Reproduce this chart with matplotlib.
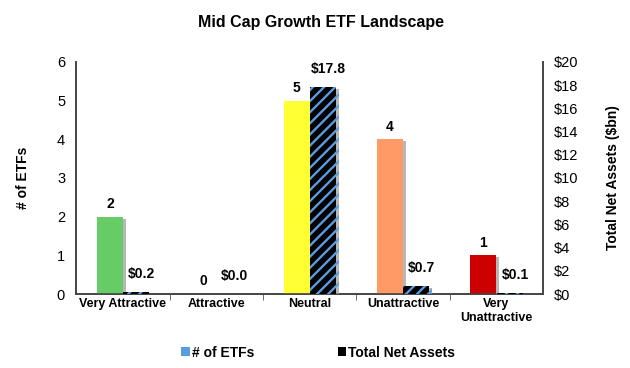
import matplotlib
matplotlib.use("Agg")
import matplotlib.pyplot as plt
import matplotlib.patheffects as pe
from matplotlib.patches import Patch
import numpy as np

plt.rcParams['font.family'] = ['Liberation Sans', 'DejaVu Sans']
plt.rcParams['hatch.linewidth'] = 1.7
plt.rcParams['hatch.color'] = '#5B9BE0'

categories = ["Very Attractive", "Attractive", "Neutral", "Unattractive", "Very\nUnattractive"]
num_etfs = [2, 0, 5, 4, 1]
net_assets = [0.2, 0.0, 17.8, 0.7, 0.1]
bar_colors = ["#66CC66", "#66CC66", "#FFFF33", "#FF9966", "#CC0000"]

fig = plt.figure(figsize=(6.3, 3.68), dpi=100)
ax = fig.add_axes([0.121, 0.201, 0.741, 0.631])
ax2 = ax.twinx()

x = np.arange(len(categories))
w = 0.28
shadow = [pe.SimplePatchShadow(offset=(2, -1.5), shadow_rgbFace='#999999', alpha=0.7), pe.Normal()]

b1 = ax.bar(x - w / 2, num_etfs, w, color=bar_colors, zorder=3)
for b in b1:
    b.set_path_effects(shadow)
b2 = ax2.bar(x + w / 2, net_assets, w, color='black', hatch='///', linewidth=0, zorder=3)
for b in b2:
    b.set_path_effects(shadow)

for xi, v in zip(x, num_etfs):
    ax.annotate(str(v), (xi - w / 2, v), xytext=(0, 4), textcoords='offset points',
                ha='center', va='bottom', fontsize=10, fontweight='bold')
for xi, v in zip(x, net_assets):
    ax2.annotate(f"${v:.1f}", (xi + w / 2, v), xytext=(4, 8), textcoords='offset points',
                 ha='center', va='bottom', fontsize=10, fontweight='bold')

ax.set_xlim(-0.5, 4.5)
ax.set_ylim(0, 6)
ax2.set_ylim(0, 20)
ax.set_yticks(range(0, 7))
ax2.set_yticks(range(0, 21, 2))
ax2.set_yticklabels([f"${t}" for t in range(0, 21, 2)])
ax.tick_params(axis='y', length=0, labelsize=10.5, pad=8)
ax2.tick_params(axis='y', length=0, labelsize=10.5, pad=8)

ax.set_xticks(x)
ax.set_xticklabels(categories, fontsize=9, fontweight='bold')
ax.tick_params(axis='x', length=0, pad=3)
ax.set_xticks(np.arange(0.5, 4.5, 1), minor=True)
ax.tick_params(axis='x', which='minor', length=4, direction='out', color='#555555')

for a in (ax, ax2):
    a.spines['top'].set_visible(False)
    for s in ('left', 'right', 'bottom'):
        a.spines[s].set_color('#444444')
        a.spines[s].set_linewidth(1.2)

ax.set_ylabel("# of ETFs", fontsize=10, fontweight='bold', labelpad=19)
ax2.set_ylabel("Total Net Assets ($bn)", fontsize=10, fontweight='bold', labelpad=20)
fig.suptitle("Mid Cap Growth ETF Landscape", x=0.51, y=0.96, fontsize=11.5, fontweight='bold')

handles = [Patch(facecolor='#5B9BE0', edgecolor='none', label='# of ETFs'),
           Patch(facecolor='black', hatch='///', edgecolor='none', label='Total Net Assets')]
fig.legend(handles=handles, loc='center', bbox_to_anchor=(0.505, 0.042), ncol=2, frameon=False,
           prop={'weight': 'bold', 'size': 10}, handlelength=0.6, handleheight=0.6,
           handletextpad=0.15, columnspacing=6)

fig.savefig("out.png", dpi=100)
